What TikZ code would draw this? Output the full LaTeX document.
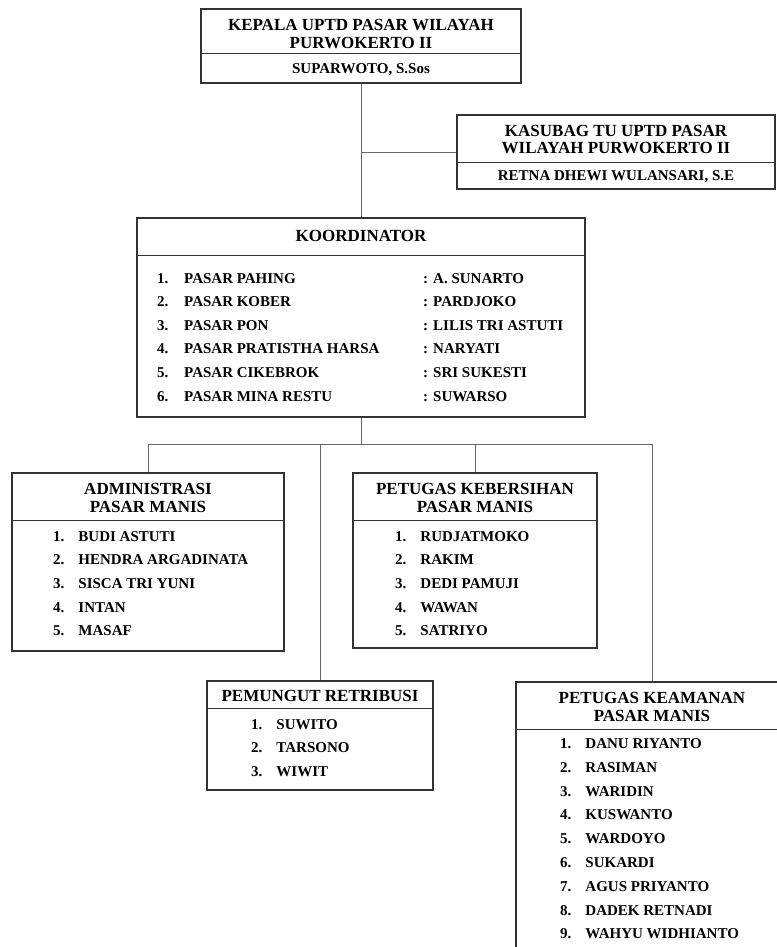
\documentclass[tikz,border=0pt]{standalone}
\usepackage{fontspec}
\setmainfont{Liberation Serif}
\usepackage{tikz}
\usetikzlibrary{positioning, calc}

\begin{document}
\begin{tikzpicture}[x=1pt, y=-1pt,
    box/.style={draw=black!80, line width=1.4pt, inner sep=0pt},
    ttl/.style={font=\bfseries\fontsize{17}{19}\selectfont, inner sep=0pt},
    itm/.style={font=\bfseries\fontsize{15}{17}\selectfont, inner sep=0pt, anchor=west},
    sep/.style={draw=black!80, line width=1pt},
    link/.style={draw=black!60, line width=1pt}]
    \useasboundingbox (0,0) rectangle (776,947);
    % kepala
    \node[box, minimum width=320, minimum height=74] (kepala) at (361,46) {};
    \draw[sep] (kepala.west |- 0,54) -- (kepala.east |- 0,54);
    \node[ttl] (kp1) at (361,25) {KEPALA UPTD PASAR WILAYAH};
    \node[ttl] (kp2) at (361,43) {PURWOKERTO II};
    \node[itm, anchor=center] (kpn) at (361,70) {SUPARWOTO, S.Sos};
    % kasubag
    \node[box, minimum width=318, minimum height=74] (kasubag) at (616,152) {};
    \draw[sep] (kasubag.west |- 0,162) -- (kasubag.east |- 0,162);
    \node[ttl] (ks1) at (616,131) {KASUBAG TU UPTD PASAR};
    \node[ttl] (ks2) at (616,148) {WILAYAH PURWOKERTO II};
    \node[itm, anchor=center] (ksn) at (616,177) {RETNA DHEWI WULANSARI, S.E};
    % koordinator
    \node[box, minimum width=448, minimum height=199] (koord) at (361,317.5) {};
    \draw[sep] (koord.west |- 0,255) -- (koord.east |- 0,255);
    \node[ttl] (ko) at (361,236) {KOORDINATOR};
    \node[itm] (ko1) at (157,279) {1.};
    \node[itm] (ko2) at (157,302) {2.};
    \node[itm] (ko3) at (157,326) {3.};
    \node[itm] (ko4) at (157,349) {4.};
    \node[itm] (ko5) at (157,373) {5.};
    \node[itm] (ko6) at (157,397) {6.};
    \node[itm] (kop1) at (184,279) {PASAR PAHING};
    \node[itm] (kop2) at (184,302) {PASAR KOBER};
    \node[itm] (kop3) at (184,326) {PASAR PON};
    \node[itm] (kop4) at (184,349) {PASAR PRATISTHA HARSA};
    \node[itm] (kop5) at (184,373) {PASAR CIKEBROK};
    \node[itm] (kop6) at (184,397) {PASAR MINA RESTU};
    \node[itm] (kon1) at (423,279) {: A. SUNARTO};
    \node[itm] (kon2) at (423,302) {: PARDJOKO};
    \node[itm] (kon3) at (423,326) {: LILIS TRI ASTUTI};
    \node[itm] (kon4) at (423,349) {: NARYATI};
    \node[itm] (kon5) at (423,373) {: SRI SUKESTI};
    \node[itm] (kon6) at (423,397) {: SUWARSO};
    % administrasi
    \node[box, minimum width=272, minimum height=178] (admin) at (148,562) {};
    \draw[sep] (admin.west |- 0,520) -- (admin.east |- 0,520);
    \node[ttl] (ad1) at (148,489) {ADMINISTRASI};
    \node[ttl] (ad2) at (148,507) {PASAR MANIS};
    \node[itm] (adn1) at (53,537) {1.\hspace{14pt}BUDI ASTUTI};
    \node[itm] (adn2) at (53,560) {2.\hspace{14pt}HENDRA ARGADINATA};
    \node[itm] (adn3) at (53,584) {3.\hspace{14pt}SISCA TRI YUNI};
    \node[itm] (adn4) at (53,608) {4.\hspace{14pt}INTAN};
    \node[itm] (adn5) at (53,631) {5.\hspace{14pt}MASAF};
    % kebersihan
    \node[box, minimum width=244, minimum height=175] (keb) at (475,560.5) {};
    \draw[sep] (keb.west |- 0,520) -- (keb.east |- 0,520);
    \node[ttl] (kb1) at (475,489) {PETUGAS KEBERSIHAN};
    \node[ttl] (kb2) at (475,507) {PASAR MANIS};
    \node[itm] (kbn1) at (395,537) {1.\hspace{14pt}RUDJATMOKO};
    \node[itm] (kbn2) at (395,560) {2.\hspace{14pt}RAKIM};
    \node[itm] (kbn3) at (395,584) {3.\hspace{14pt}DEDI PAMUJI};
    \node[itm] (kbn4) at (395,608) {4.\hspace{14pt}WAWAN};
    \node[itm] (kbn5) at (395,631) {5.\hspace{14pt}SATRIYO};
    % pemungut
    \node[box, minimum width=226, minimum height=109] (pemungut) at (320,735.5) {};
    \draw[sep] (pemungut.west |- 0,708) -- (pemungut.east |- 0,708);
    \node[ttl] (pm) at (320,696) {PEMUNGUT RETRIBUSI};
    \node[itm] (pmn1) at (251,725) {1.\hspace{14pt}SUWITO};
    \node[itm] (pmn2) at (251,748) {2.\hspace{14pt}TARSONO};
    \node[itm] (pmn3) at (251,772) {3.\hspace{14pt}WIWIT};
    % keamanan
    \node[box, minimum width=272, minimum height=283] (keamanan) at (652,823.5) {};
    \draw[sep] (keamanan.west |- 0,729) -- (keamanan.east |- 0,729);
    \node[ttl] (km1) at (652,698) {PETUGAS KEAMANAN};
    \node[ttl] (km2) at (652,716) {PASAR MANIS};
    \node[itm] (kmn1) at (560,744) {1.\hspace{14pt}DANU RIYANTO};
    \node[itm] (kmn2) at (560,768) {2.\hspace{14pt}RASIMAN};
    \node[itm] (kmn3) at (560,792) {3.\hspace{14pt}WARIDIN};
    \node[itm] (kmn4) at (560,815) {4.\hspace{14pt}KUSWANTO};
    \node[itm] (kmn5) at (560,839) {5.\hspace{14pt}WARDOYO};
    \node[itm] (kmn6) at (560,863) {6.\hspace{14pt}SUKARDI};
    \node[itm] (kmn7) at (560,887) {7.\hspace{14pt}AGUS PRIYANTO};
    \node[itm] (kmn8) at (560,911) {8.\hspace{14pt}DADEK RETNADI};
    \node[itm] (kmn9) at (560,934) {9.\hspace{14pt}WAHYU WIDHIANTO};
    % garis
    \coordinate (kb) at (kepala.south |- kasubag.west);
    \coordinate (bus) at (361,444);
    \draw[link] (kepala.south) -- (koord.north);
    \draw[link] (kb) -- (kasubag.west);
    \draw[link] (koord.south) -- (bus);
    \draw[link] (admin.north) -- (admin.north |- bus) -- (keamanan.north |- bus) -- (keamanan.north);
    \draw[link] (pemungut.north) -- (pemungut.north |- bus);
    \draw[link] (keb.north) -- (keb.north |- bus);
\end{tikzpicture}
\end{document}
